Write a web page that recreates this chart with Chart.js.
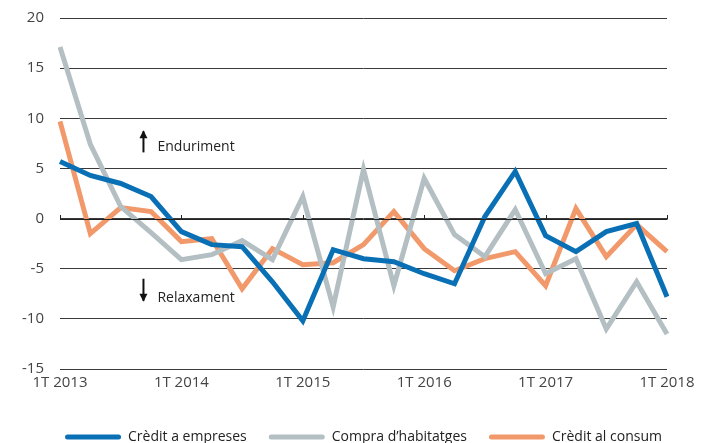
<!DOCTYPE html>
<html>
<head>
<meta charset="utf-8">
<script src="https://cdn.jsdelivr.net/npm/chart.js@4"></script>
<style>
  html, body { margin: 0; padding: 0; background: #fff; }
  #wrap { width: 713px; height: 443px; }
</style>
</head>
<body>
<div id="wrap"><canvas id="chart" width="713" height="443"></canvas></div>
<script>
/* dades */
var quarters = [];
var years = [2013, 2014, 2015, 2016, 2017, 2018];
years.forEach(function(y) {
    for (var q = 1; q <= 4; q++) {
        if (y == 2018 && q > 1) break;
        quarters.push(q + "T " + y);
    }
});

var empreses   = [5.7, 4.3, 3.5, 2.2, -1.3, -2.6, -2.8, -6.3, -10.2, -3.1, -4.0, -4.3, -5.5, -6.5, 0.2, 4.7, -1.7, -3.3, -1.3, -0.5, -7.8];
var habitatges = [17.1, 7.4, 1.2, -1.4, -4.1, -3.6, -2.2, -4.1, 2.2, -8.8, 4.9, -6.7, 4.0, -1.6, -3.8, 0.9, -5.5, -4.0, -11.0, -6.3, -11.5];
var consum     = [9.7, -1.5, 1.1, 0.7, -2.3, -2.0, -7.0, -3.0, -4.6, -4.4, -2.6, 0.7, -3.0, -5.2, -4.0, -3.3, -6.7, 1.0, -3.8, -0.6, -3.3];

var yTicks = [-15, -10, -5, 0, 5, 10, 15, 20];

var fontFam = "'Open Sans', sans-serif";

/* llegenda una mica més avall */
var legendShift = {
    id: 'legendShift',
    beforeInit: function(chart) {
        var fit = chart.legend.fit;
        chart.legend.fit = function() {
            fit.call(this);
            this.height -= 11;
        };
    }
};

/* línia del zero amb marques i fletxes */
var extras = {
    id: 'extras',
    afterDatasetsDraw: function(chart) {
        var ctx = chart.ctx;
        var xs = chart.scales.x, ys = chart.scales.y;
        var y0 = Math.round(ys.getPixelForValue(0));
        ctx.save();
        ctx.strokeStyle = '#222';
        ctx.lineWidth = 1;
        ctx.beginPath();
        ctx.moveTo(chart.chartArea.left, y0 + 0.5);
        ctx.lineTo(chart.chartArea.right, y0 + 0.5);
        for (var i = 0; i < quarters.length; i += 4) {
            var x = Math.round(xs.getPixelForValue(i)) + 0.5;
            ctx.moveTo(x, y0 + 0.5);
            ctx.lineTo(x, y0 - 4);
        }
        ctx.stroke();

        var ax = xs.getPixelForValue(2.75);
        function arrow(yFrom, yTo) {
            ctx.strokeStyle = '#111';
            ctx.fillStyle = '#111';
            ctx.lineWidth = 2;
            ctx.beginPath();
            ctx.moveTo(ax, yFrom);
            ctx.lineTo(ax, yTo);
            ctx.stroke();
            var d = yTo < yFrom ? 1 : -1;
            ctx.beginPath();
            ctx.moveTo(ax, yTo - d * 1);
            ctx.lineTo(ax - 4, yTo + d * 7);
            ctx.lineTo(ax + 4, yTo + d * 7);
            ctx.closePath();
            ctx.fill();
        }
        arrow(ys.getPixelForValue(6.6), ys.getPixelForValue(8.7));
        arrow(ys.getPixelForValue(-6.0), ys.getPixelForValue(-8.2));

        ctx.fillStyle = '#222';
        ctx.font = "14px " + fontFam;
        ctx.textBaseline = 'middle';
        ctx.fillText('Enduriment', ax + 14, ys.getPixelForValue(7.1));
        ctx.fillText('Relaxament', ax + 14, ys.getPixelForValue(-7.9));
        ctx.restore();
    }
};

function serie(label, data, color) {
    return {
        label: label,
        data: data,
        borderColor: color,
        backgroundColor: color,
        borderWidth: 5,
        pointRadius: 0,
        tension: 0,
        borderJoinStyle: 'miter'
    };
}

window.onload = function() {
    var ctx = document.getElementById('chart').getContext('2d');
    window.theChart = new Chart(ctx, {
        type: 'line',
        data: {
            labels: quarters,
            datasets: [
                serie('Crèdit a empreses', empreses, '#0a70b5'),
                serie('Compra d\u2019habitatges', habitatges, '#b3bfc2'),
                serie('Crèdit al consum', consum, '#f2996b')
            ]
        },
        plugins: [legendShift, extras],
        options: {
            responsive: false,
            animation: false,
            layout: { padding: { top: 18, right: 0, bottom: 0, left: 14 } },
            plugins: {
                tooltip: { enabled: false },
                legend: {
                    position: 'bottom',
                    labels: {
                        boxWidth: 56,
                        boxHeight: 5,
                        padding: 22,
                        color: '#222',
                        font: { family: fontFam, size: 14 },
                        generateLabels: function(chart) {
                            return chart.data.datasets.map(function(ds, i) {
                                return {
                                    text: ds.label,
                                    fillStyle: ds.borderColor,
                                    strokeStyle: ds.borderColor,
                                    lineWidth: 0,
                                    fontColor: '#222',
                                    datasetIndex: i,
                                    borderRadius: 2.5
                                };
                            });
                        }
                    }
                }
            },
            scales: {
                x: {
                    offset: false,
                    grid: { display: false, drawTicks: false },
                    border: { display: false },
                    afterFit: function(scale) {
                        scale.height += 11;
                        scale.paddingRight = 46;
                    },
                    ticks: {
                        autoSkip: false,
                        maxRotation: 0,
                        padding: 5,
                        color: '#444',
                        font: { family: fontFam, size: 15 },
                        callback: function(v, i) { return i % 4 == 0 ? quarters[i] : ''; }
                    }
                },
                y: {
                    min: -15,
                    max: 20,
                    afterFit: function(scale) {
                        scale.width = 46;
                        scale.paddingTop = 0;
                    },
                    afterBuildTicks: function(scale) {
                        scale.ticks = yTicks.map(function(v) { return { value: v }; });
                    },
                    border: { display: false },
                    grid: { color: '#3a3a3a', lineWidth: 1, drawTicks: false },
                    ticks: {
                        padding: 16,
                        color: '#444',
                        font: { family: fontFam, size: 15 }
                    }
                }
            }
        }
    });
};
</script>
</body>
</html>
